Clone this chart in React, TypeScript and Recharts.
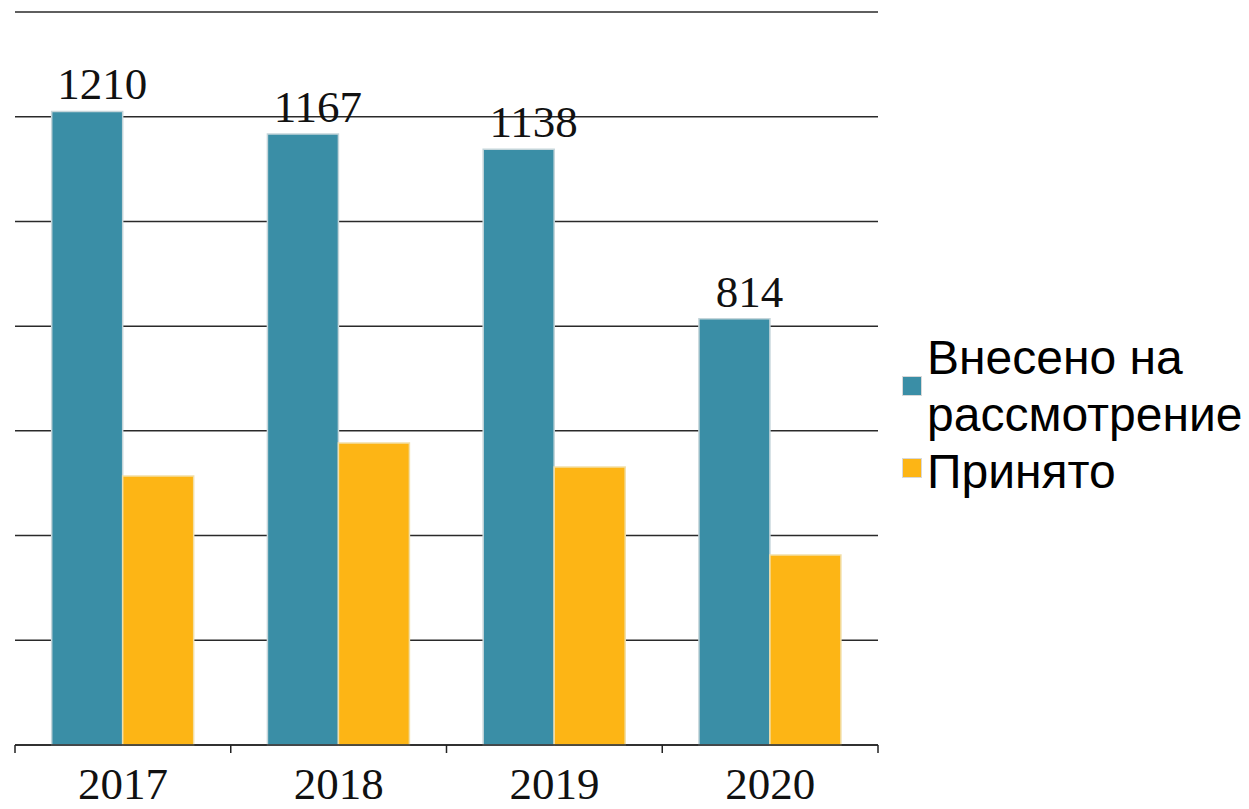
import React from "react";
import { BarChart, Bar, XAxis, YAxis, CartesianGrid, LabelList } from "recharts";

const categories = ["2017", "2018", "2019", "2020"];
const submitted = [1210, 1167, 1138, 814];
const adopted = [514, 577, 531, 363];
const yTicks = [0, 200, 400, 600, 800, 1000, 1200, 1400];
const seriesNames = ["Внесено на рассмотрение", "Принято"];
const legendLines = [["Внесено на", "рассмотрение"], ["Принято"]];

const BLUE = "#3A8EA6";
const YELLOW = "#FDB515";

const data = categories.map((c, i) => ({ year: c, submitted: submitted[i], adopted: adopted[i] }));

const W = 1233;
const H = 800;
const M = { top: 4, left: 7, right: 363, bottom: 0 };
const BW = (W - M.left - M.right) / categories.length;

const SERIF = "'Liberation Serif', 'Times New Roman', serif";
const SANS = "'Liberation Sans', Arial, sans-serif";

const YearTick = (props: any) => {
  const { x, y, payload, index } = props;
  const last = index === categories.length - 1;
  return (
    <g>
      <line x1={x - BW / 2} y1={y} x2={x - BW / 2} y2={y + 8} stroke="#222" strokeWidth={1.5} />
      {last && <line x1={x + BW / 2} y1={y} x2={x + BW / 2} y2={y + 8} stroke="#222" strokeWidth={1.5} />}
      <text x={x} y={y + 54} textAnchor="middle" fontFamily={SERIF} fontSize={45} fill="#111">
        {payload.value}
      </text>
    </g>
  );
};

const TopLabel = (props: any) => {
  const { x, y, width, value } = props;
  return (
    <text x={x + width / 2 + 15} y={y - 12} textAnchor="middle" fontFamily={SERIF} fontSize={45} fill="#111">
      {value}
    </text>
  );
};

export default function App() {
  return (
    <div style={{ position: "relative", width: 1241, height: H, overflow: "hidden", background: "#fff", marginBottom: -8 }}>
      <BarChart width={W} height={H} data={data} margin={M} barCategoryGap="17%" barGap={0}>
        <CartesianGrid vertical={false} stroke="#2a2a2a" strokeWidth={1.5} />
        <YAxis hide domain={[0, 1400]} ticks={yTicks} />
        <XAxis
          dataKey="year"
          height={63}
          tickLine={false}
          tickSize={0}
          tickMargin={0}
          axisLine={{ stroke: "#222", strokeWidth: 1.5 }}
          tick={<YearTick />}
          interval={0}
        />
        <Bar dataKey="submitted" name={seriesNames[0]} fill={BLUE} stroke="#c4d5da" strokeWidth={1.5} isAnimationActive={false}>
          <LabelList dataKey="submitted" content={<TopLabel />} />
        </Bar>
        <Bar dataKey="adopted" name={seriesNames[1]} fill={YELLOW} stroke="#f2dfa8" strokeWidth={1.5} isAnimationActive={false} />
      </BarChart>
      <div style={{ position: "absolute", left: 894, top: 321, fontFamily: SANS, fontSize: 48, lineHeight: "57px", color: "#000", whiteSpace: "nowrap" }}>
        {legendLines.map((lines, i) => (
          <div key={i} style={{ display: "flex", alignItems: "center" }}>
            <div style={{ width: 20, height: 20, background: i === 0 ? BLUE : YELLOW, marginRight: 5, marginTop: i === 0 ? 0 : -8, border: "1px solid #d8d8d8", boxSizing: "border-box", flexShrink: 0 }} />
            <div>
              {lines.map((l, j) => (
                <div key={j}>{l}</div>
              ))}
            </div>
          </div>
        ))}
      </div>
    </div>
  );
}
